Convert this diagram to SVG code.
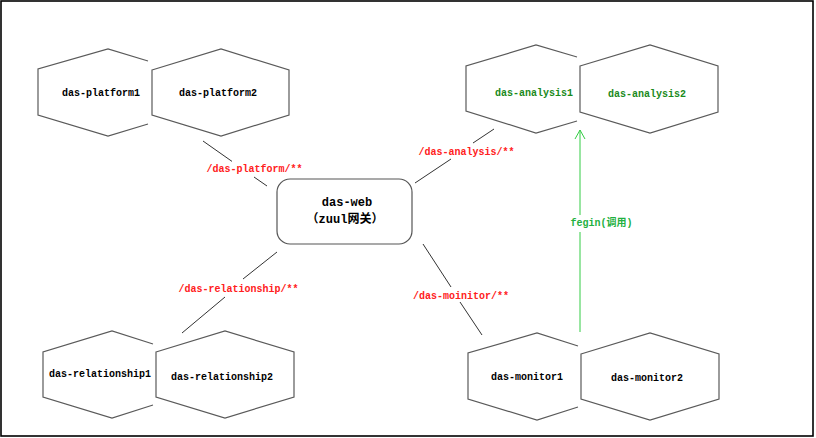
<svg xmlns="http://www.w3.org/2000/svg" width="816" height="438" viewBox="0 0 816 438">
<style>
.hex{fill:#fff;stroke:#5a5a5a;stroke-width:1.2}
.hexo{fill:none;stroke:#5a5a5a;stroke-width:1.2}
.t{font-family:"Liberation Mono","Noto Sans CJK SC",monospace;font-size:10px;font-weight:bold;text-anchor:middle;dominant-baseline:central}
.blk{fill:#000}
.grn{fill:#1a8a1a}
.red{fill:#ff2020}
.gl{fill:#22b040}
.big{font-size:12px}
.c{stroke:#333;stroke-width:1;fill:none}
.g{stroke:#33cc44;stroke-width:1;fill:none}
</style>
<defs>
<marker id="v" markerWidth="12" markerHeight="12" refX="10" refY="6" orient="auto" markerUnits="userSpaceOnUse" viewBox="0 0 12 12">
<path d="M1,1 L10,6 L1,11" fill="none" stroke="#33cc44" stroke-width="1"/>
</marker>
</defs>
<rect x="1" y="1" width="812" height="435" fill="#fff" stroke="#000" stroke-width="1.6"/>
<g id="connectors">
<line class="c" x1="203" y1="141" x2="232" y2="161.4"/>
<line class="c" x1="254" y1="177" x2="267" y2="186"/>
<line class="c" x1="415" y1="183" x2="451" y2="159"/>
<line class="c" x1="473" y1="143" x2="494" y2="129"/>
<line class="c" x1="182" y1="333" x2="225" y2="297"/>
<line class="c" x1="243" y1="279" x2="277" y2="252"/>
<line class="c" x1="423" y1="244" x2="451" y2="287"/>
<line class="c" x1="460" y1="302" x2="482" y2="335"/>
<line class="g" x1="580" y1="332" x2="580" y2="232"/>
<path class="g" d="M580,215 L580,130" marker-end="url(#v)"/>
<text class="t red" x="254.5" y="169">/das-platform/**</text>
<text class="t red" x="466.5" y="152">/das-analysis/**</text>
<text class="t red" x="238.5" y="289">/das-relationship/**</text>
<text class="t red" x="461" y="296">/das-moinitor/**</text>
<text class="t gl" x="601.5" y="223">fegin(调用)</text>
</g>
<g id="das-web">
<rect x="277" y="179" width="135" height="65" rx="13" fill="#fff" stroke="#555" stroke-width="1.2"/>
<text class="t blk big" x="347" y="203">das-web</text>
<text class="t blk big" x="345" y="220">（zuul网关）</text>
</g>
<g id="das-platform1">
<polyline class="hexo" points="148,61 108,49 38,69 38,115 108,136 148,124"/>
<text class="t blk" x="101" y="93">das-platform1</text>
</g>
<g id="das-platform2">
<polygon class="hex" points="152,70 221,49 289,70 289,115 221,136 152,115"/>
<text class="t blk" x="218" y="93">das-platform2</text>
</g>
<g id="das-analysis1">
<polyline class="hexo" points="577,57 536,45 466,66 466,111 536,133 577,121"/>
<text class="t grn" x="534" y="93">das-analysis1</text>
</g>
<g id="das-analysis2">
<polygon class="hex" points="580,66 650,45 718,66 718,112 650,133 580,112"/>
<text class="t grn" x="647" y="94">das-analysis2</text>
</g>
<g id="das-relationship1">
<polyline class="hexo" points="153,344 112,331 43,352 43,397 112,418 153,405"/>
<text class="t blk" x="100" y="374">das-relationship1</text>
</g>
<g id="das-relationship2">
<polygon class="hex" points="156,352 225,331 294,352 294,397 225,418 156,397"/>
<text class="t blk" x="222" y="377">das-relationship2</text>
</g>
<g id="das-monitor1">
<polyline class="hexo" points="578,346 537,333 468,353 468,399 537,420 578,407"/>
<text class="t blk" x="527" y="377">das-monitor1</text>
</g>
<g id="das-monitor2">
<polygon class="hex" points="581,354 650,333 719,354 719,399 650,420 581,399"/>
<text class="t blk" x="647" y="378">das-monitor2</text>
</g>
</svg>
